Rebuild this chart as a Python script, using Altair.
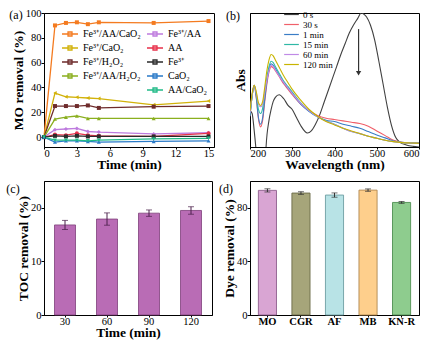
import altair as alt
import pandas as pd

FONT = "Liberation Serif"

# ---------------- (a) MO removal vs time ----------------
time_min = [0, 1, 2, 3, 4, 5, 10, 15]
series_names = ["Fe³⁺/AA/CaO₂", "Fe³⁺/CaO₂", "Fe³⁺/H₂O₂", "Fe³⁺/AA/H₂O₂",
                "Fe³⁺/AA", "AA", "Fe³⁺", "CaO₂", "AA/CaO₂"]
legend_col1 = series_names[:4]
legend_col2 = series_names[4:]
fe_aa_cao2 = [0, 90, 92, 92.5, 91, 92.5, 92, 93.5]
fe_cao2 = [0, 35.5, 32.5, 32, 31.5, 31, 26, 29]
fe_h2o2 = [0, 25, 25, 25, 25.5, 23.5, 24.5, 25]
fe_aa_h2o2 = [0, 14.5, 16, 17, 15, 15, 15, 15]
fe_aa = [0, 6, 6.5, 7, 4.5, 4, 2.5, 3.5]
aa = [0, 2, 1.5, 3, 1.5, 1, 0.5, 3]
fe = [0, 1, 0.5, 1, 0.5, 0.5, 0.5, 0.5]
cao2 = [0, -4, -3, -3, -3.5, -4, -3.5, -3]
aa_cao2 = [0, -2.5, -2.5, -2.5, -3, -2.5, -1.5, -1]
series_values = [fe_aa_cao2, fe_cao2, fe_h2o2, fe_aa_h2o2, fe_aa, aa, fe, cao2, aa_cao2]
series_colors = ["#F47B20", "#D2B20A", "#6E2B2B", "#8AAF1E",
                 "#BE7BDE", "#E8304A", "#2B2B2B", "#2A7AC8", "#22BB88"]
series_shapes = ["square", "triangle-left", "square", "triangle-up",
                 "diamond", "circle", "square", "triangle-up", "triangle-down"]

# ---------------- (b) UV-vis spectra ----------------
wl_0s = [200, 205, 210, 215, 220, 230, 235, 238, 245, 250, 255, 260, 269, 280, 290,
         300, 310, 320, 336, 345, 355, 365, 375, 385, 395, 405, 415, 425, 435, 445,
         455, 463, 470, 476, 485, 495, 505, 515, 525, 535, 545, 555, 570, 585, 600]
abs_0s = [0.27, 0.25, 0.12, -0.05, -0.3, -0.4, -0.2, 0.0, 0.2, 0.28, 0.34, 0.37, 0.39,
          0.36, 0.31, 0.28, 0.22, 0.16, 0.105, 0.12, 0.17, 0.24, 0.33, 0.42, 0.51,
          0.60, 0.69, 0.77, 0.85, 0.91, 0.96, 1.0, 0.99, 0.97, 0.91, 0.80, 0.64,
          0.47, 0.30, 0.16, 0.07, 0.035, 0.015, 0.005, 0.0]
wl = [200, 205, 210, 215, 220, 225, 230, 235, 240, 245, 250, 255, 260, 270, 280, 290,
      300, 320, 340, 360, 380, 400, 420, 440, 460, 480, 500, 520, 540, 560, 580, 600]
abs_30s = [0.23, 0.38, 0.46, 0.36, 0.21, 0.15, 0.20, 0.34, 0.47, 0.56, 0.60, 0.59, 0.57,
           0.52, 0.47, 0.43, 0.39, 0.32, 0.27, 0.235, 0.215, 0.205, 0.195, 0.185, 0.175,
           0.155, 0.12, 0.085, 0.05, 0.035, 0.03, 0.03]
abs_1min = [0.23, 0.38, 0.46, 0.37, 0.22, 0.17, 0.22, 0.36, 0.49, 0.58, 0.62, 0.61, 0.585,
            0.53, 0.48, 0.44, 0.40, 0.32, 0.265, 0.225, 0.20, 0.19, 0.17, 0.155, 0.14,
            0.115, 0.09, 0.068, 0.045, 0.035, 0.03, 0.03]
abs_15min = [0.24, 0.38, 0.46, 0.39, 0.28, 0.25, 0.29, 0.41, 0.52, 0.60, 0.64, 0.63, 0.60,
             0.545, 0.49, 0.45, 0.41, 0.33, 0.27, 0.225, 0.195, 0.17, 0.14, 0.115, 0.10,
             0.08, 0.065, 0.05, 0.04, 0.033, 0.03, 0.028]
abs_60min = [0.25, 0.39, 0.46, 0.40, 0.32, 0.30, 0.32, 0.41, 0.50, 0.57, 0.61, 0.60, 0.575,
             0.525, 0.48, 0.44, 0.40, 0.325, 0.27, 0.225, 0.193, 0.168, 0.14, 0.115, 0.10,
             0.08, 0.065, 0.05, 0.04, 0.033, 0.03, 0.028]
abs_120min = [0.27, 0.40, 0.46, 0.41, 0.33, 0.31, 0.34, 0.45, 0.57, 0.65, 0.69, 0.68, 0.65,
              0.59, 0.53, 0.48, 0.43, 0.35, 0.28, 0.23, 0.19, 0.165, 0.14, 0.12, 0.10,
              0.08, 0.065, 0.05, 0.04, 0.033, 0.03, 0.028]
spec_names = ["0 s", "30 s", "1 min", "15 min", "60 min", "120 min"]
spec_colors = ["#404040", "#F0606A", "#3A7DC6", "#2FB8A6", "#C08AE6", "#C8B400"]
arrow_nm = [457]
arrow_top = [0.88]
arrow_tip = [0.55]

# ---------------- (c) TOC removal ----------------
toc_time = ["30", "60", "90", "120"]
toc_val = [16.8, 17.9, 19.0, 19.5]
toc_err = [0.85, 1.15, 0.6, 0.7]

# ---------------- (d) dye removal ----------------
dyes = ["MO", "CGR", "AF", "MB", "KN-R"]
dye_val = [93.0, 91.0, 89.5, 93.2, 84.0]
dye_err = [1.2, 1.0, 1.6, 0.9, 0.7]
dye_fill = ["#D9A5D3", "#A6A57A", "#B8E3E6", "#FECF8C", "#8ECC8E"]
dye_edge = ["#8F5F8D", "#6B6A48", "#6D9EA3", "#B08850", "#4F8F52"]

panel_labels = ["(a)", "(b)", "(c)", "(d)"]

# ======== build tables ========
rows = []
for name, vals in zip(series_names, series_values):
    for t, v in zip(time_min, vals):
        rows.append({"series": name, "time": t, "removal": v,
                     "grp": 1 if name in legend_col1 else 2})
df_a = pd.DataFrame(rows)
df_a1 = df_a[df_a["grp"] == 1]
df_a2 = df_a[df_a["grp"] == 2]

rows = []
for w, v in zip(wl_0s, abs_0s):
    rows.append({"spec": "0 s", "wl": w, "abs": v})
for name, arr in zip(spec_names[1:], [abs_30s, abs_1min, abs_15min, abs_60min, abs_120min]):
    for w, v in zip(wl, arr):
        rows.append({"spec": name, "wl": w, "abs": v})
df_b = pd.DataFrame(rows)
df_arrow = pd.DataFrame({"wl": arrow_nm, "top": arrow_top, "tip": arrow_tip})

df_c = pd.DataFrame({"time": toc_time, "toc": toc_val,
                     "lo": [v - e for v, e in zip(toc_val, toc_err)],
                     "hi": [v + e for v, e in zip(toc_val, toc_err)]})
df_d = pd.DataFrame({"dye": dyes, "val": dye_val,
                     "lo": [v - e for v, e in zip(dye_val, dye_err)],
                     "hi": [v + e for v, e in zip(dye_val, dye_err)]})


def panel_label(i, dx, dy):
    return alt.Chart(pd.DataFrame({"lab": [panel_labels[i]]})).mark_text(
        font=FONT, fontSize=12, color="black", align="center", baseline="middle"
    ).encode(text="lab:N", x=alt.value(dx), y=alt.value(dy))


# ======== (a) ========
xa = alt.X("time:Q", scale=alt.Scale(domain=[0, 15.5], nice=False),
           axis=alt.Axis(values=[0, 3, 6, 9, 12, 15], title="Time (min)"))
ya = alt.Y("removal:Q", scale=alt.Scale(domain=[-8, 100], nice=False),
           axis=alt.Axis(values=[0, 20, 40, 60, 80, 100], title="MO removal (%)"))
sym_a = "M-1.6,0H1.6M-0.4,-0.4H0.4V0.4H-0.4Z"


def leg_a(x):
    return alt.Legend(orient="none", legendX=x, legendY=15, title=None,
                      symbolType=sym_a, symbolSize=100, symbolStrokeWidth=1.3,
                      labelFontSize=10, rowPadding=3, labelOffset=7, padding=0)


lines_a1 = alt.Chart(df_a1).mark_line(strokeWidth=1.3).encode(
    x=xa, y=ya,
    stroke=alt.Stroke("series:N", scale=alt.Scale(domain=legend_col1, range=series_colors[:4]),
                      legend=leg_a(20), sort=legend_col1))
lines_a2 = alt.Chart(df_a2).mark_line(strokeWidth=1.3).encode(
    x=xa, y=ya,
    color=alt.Color("series:N", scale=alt.Scale(domain=legend_col2, range=series_colors[4:]),
                    legend=leg_a(105), sort=legend_col2))
pts_a = alt.Chart(df_a).mark_point(filled=True, size=16, opacity=1).encode(
    x=xa, y=ya,
    fill=alt.Fill("series:N", scale=alt.Scale(domain=series_names, range=series_colors),
                  legend=None),
    shape=alt.Shape("series:N", scale=alt.Scale(domain=series_names, range=series_shapes),
                    legend=None))
chart_a = alt.layer(lines_a1, lines_a2, pts_a, panel_label(0, -28, 2)).resolve_scale(
    color="independent", stroke="independent").properties(width=170, height=134)

# ======== (b) ========
xb = alt.X("wl:Q", scale=alt.Scale(domain=[200, 600], nice=False),
           axis=alt.Axis(values=list(range(200, 601, 50)), title="Wavelength (nm)",
                         labelExpr="datum.value % 100 === 0 ? datum.label : ''"))
yb = alt.Y("abs:Q", scale=alt.Scale(domain=[0, 1.0], nice=False),
           axis=alt.Axis(labels=False, ticks=False, title="Abs", titlePadding=3))
leg_b = alt.Legend(orient="none", legendX=37, legendY=-3, title=None,
                   symbolType="M-2.1,0H2.1", symbolSize=49, symbolStrokeWidth=1.2,
                   labelFontSize=9, rowPadding=-0.8, labelOffset=7, padding=0)
lines_b = alt.Chart(df_b).mark_line(strokeWidth=1.1, clip=True, interpolate="monotone").encode(
    x=xb, y=yb,
    color=alt.Color("spec:N", scale=alt.Scale(domain=spec_names, range=spec_colors),
                    legend=leg_b, sort=spec_names))
arrow_line = alt.Chart(df_arrow).mark_rule(color="#333333", strokeWidth=1.2).encode(
    x=alt.X("wl:Q"), y=alt.Y("top:Q"), y2="tip:Q")
arrow_head = alt.Chart(df_arrow).mark_point(shape="triangle-down", filled=True, size=28,
                                            color="#333333", opacity=1).encode(
    x=alt.X("wl:Q"), y=alt.Y("tip:Q"))
chart_b = alt.layer(lines_b, arrow_line, arrow_head, panel_label(1, -17, 3)).properties(
    width=169, height=134)

# ======== (c) ========
xc = alt.X("time:N", sort=toc_time, scale=alt.Scale(paddingInner=0.5, paddingOuter=0.25),
           axis=alt.Axis(labelAngle=0, title="Time (min)"))
yc = alt.Y("toc:Q", scale=alt.Scale(domain=[0, 25], nice=False),
           axis=alt.Axis(values=[0, 5, 10, 15, 20, 25], title="TOC removal (%)"))
bars_c = alt.Chart(df_c).mark_bar(color="#B96CB5", stroke="#7D3F7A", strokeWidth=0.8).encode(
    x=xc, y=yc)
err_c = alt.Chart(df_c).mark_rule(color="#4A1F4A", strokeWidth=1).encode(
    x=alt.X("time:N", sort=toc_time), y="lo:Q", y2="hi:Q")
cap_lo_c = alt.Chart(df_c).mark_tick(color="#4A1F4A", size=6, thickness=1).encode(
    x=alt.X("time:N", sort=toc_time), y="lo:Q")
cap_hi_c = alt.Chart(df_c).mark_tick(color="#4A1F4A", size=6, thickness=1).encode(
    x=alt.X("time:N", sort=toc_time), y="hi:Q")
chart_c = alt.layer(bars_c, err_c, cap_lo_c, cap_hi_c, panel_label(2, -31, 8)).properties(
    width=168, height=134)

# ======== (d) ========
xd = alt.X("dye:N", sort=dyes, scale=alt.Scale(paddingInner=0.46, paddingOuter=0.25),
           axis=alt.Axis(labelAngle=0, title=None, labelFontWeight="bold"))
yd = alt.Y("val:Q", scale=alt.Scale(domain=[0, 100], nice=False),
           axis=alt.Axis(values=[0, 20, 40, 60, 80, 100], title="Dye removal (%)"))
bars_d = alt.Chart(df_d).mark_bar(strokeWidth=0.9).encode(
    x=xd, y=yd,
    fill=alt.Fill("dye:N", scale=alt.Scale(domain=dyes, range=dye_fill), legend=None),
    stroke=alt.Stroke("dye:N", scale=alt.Scale(domain=dyes, range=dye_edge), legend=None))
err_d = alt.Chart(df_d).mark_rule(color="#333333", strokeWidth=1).encode(
    x=alt.X("dye:N", sort=dyes), y="lo:Q", y2="hi:Q")
cap_lo_d = alt.Chart(df_d).mark_tick(color="#333333", size=6, thickness=1).encode(
    x=alt.X("dye:N", sort=dyes), y="lo:Q")
cap_hi_d = alt.Chart(df_d).mark_tick(color="#333333", size=6, thickness=1).encode(
    x=alt.X("dye:N", sort=dyes), y="hi:Q")
chart_d = alt.layer(bars_d, err_d, cap_lo_d, cap_hi_d, panel_label(3, -24, 8)).properties(
    width=169, height=134)

chart = alt.concat(
    chart_a, chart_b, chart_c, chart_d, columns=2,
    spacing={"row": 34, "column": 36}, bounds="flush"
).resolve_scale(
    color="independent", shape="independent", fill="independent", stroke="independent"
).properties(
    padding={"left": 5, "top": 7, "right": 5, "bottom": 5}, background="white"
).configure_view(
    stroke="black", strokeWidth=1
).configure_axis(
    labelFont=FONT, labelFontSize=10.5, labelColor="black", titleFont=FONT,
    titleFontSize=13.5, titleFontWeight="bold", titleColor="black", domainColor="black",
    tickColor="black", tickSize=3, grid=False, labelPadding=0, titlePadding=0
).configure_axisX(
    tickSize=2, labelPadding=-1, titlePadding=-1
).configure_legend(
    labelFont=FONT, labelColor="black"
)

chart.save("out.html", embed_options={"renderer": "svg", "actions": False})
